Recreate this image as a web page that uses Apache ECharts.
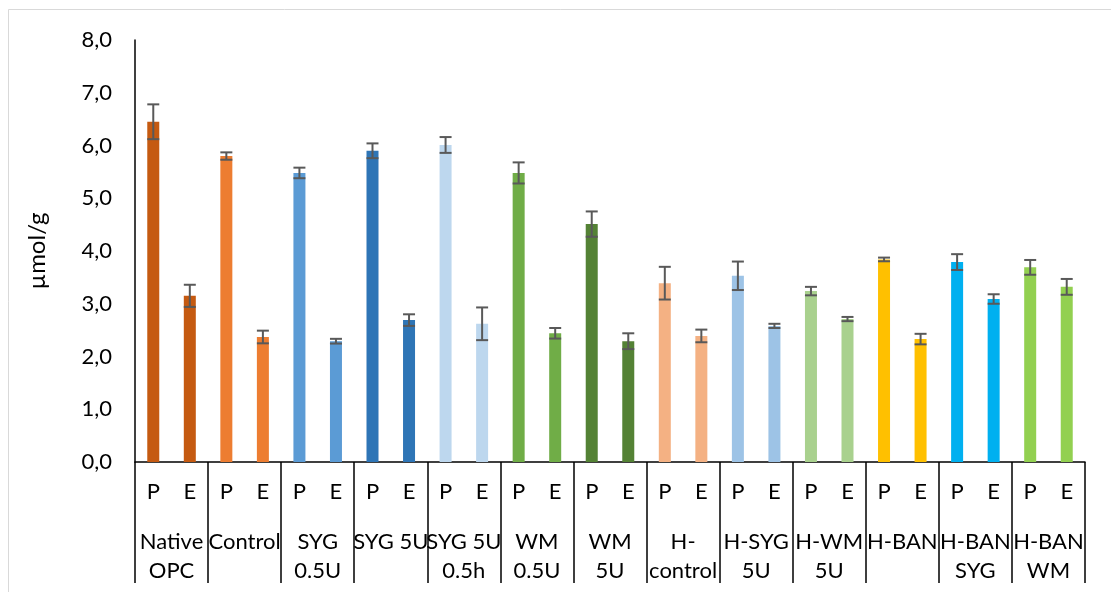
<!DOCTYPE html>
<html>
<head>
<meta charset="utf-8">
<script src="https://cdn.jsdelivr.net/npm/echarts@6/dist/echarts.min.js"></script>
<style>
  html, body { margin: 0; padding: 0; background: #fff; }
  #chart { width: 1111px; height: 592px; }
</style>
</head>
<body>
<div id="chart"></div>
<script>
// Treatment groups (two-line labels) and their bar colours
const groups = ['Native\nOPC', 'Control', 'SYG\n0.5U', 'SYG 5U', 'SYG 5U\n0.5h', 'WM\n0.5U', 'WM\n5U',
  'H-\ncontrol', 'H-SYG\n5U', 'H-WM\n5U', 'H-BAN', 'H-BAN\nSYG', 'H-BAN\nWM'];
const groupColors = ['#C55A11', '#ED7D31', '#5B9BD5', '#2E75B6', '#BDD7EE', '#70AD47', '#548235',
  '#F4B183', '#9DC3E6', '#A9D18E', '#FFC000', '#00B0F0', '#92D050'];
const fractions = ['P', 'E'];

// Mean values (µmol/g) and standard deviations, per group
const valuesP = [6.45, 5.80, 5.48, 5.90, 6.01, 5.48, 4.51, 3.39, 3.53, 3.24, 3.84, 3.79, 3.69];
const errorsP = [0.33, 0.07, 0.10, 0.14, 0.15, 0.20, 0.24, 0.31, 0.27, 0.08, 0.035, 0.15, 0.14];
const valuesE = [3.15, 2.37, 2.29, 2.69, 2.62, 2.44, 2.29, 2.39, 2.58, 2.71, 2.33, 3.09, 3.32];
const errorsE = [0.21, 0.12, 0.045, 0.11, 0.31, 0.10, 0.15, 0.12, 0.04, 0.04, 0.10, 0.09, 0.15];

// Y axis ticks
const yMin = 0, yMax = 8, yStep = 1;

// Flatten to one category per bar: P, E for each group
const barCats = [];
const barData = [];
const errData = [];
groups.forEach((g, i) => {
  [[valuesP[i], errorsP[i]], [valuesE[i], errorsE[i]]].forEach(([v, e], k) => {
    const idx = barCats.length;
    barCats.push(fractions[k]);
    barData.push({ value: v, itemStyle: { color: groupColors[i] } });
    errData.push([idx, v - e, v + e]);
  });
});

const FONT = 'Lato, "Open Sans", sans-serif';
const TXT = '#000';

const chart = echarts.init(document.getElementById('chart'), null, { renderer: 'canvas' });
chart.setOption({
  animation: false,
  backgroundColor: '#fff',
  graphic: [{
    type: 'rect',
    shape: { x: 8.5, y: 9.5, width: 1120, height: 620 },
    style: { fill: 'none', stroke: '#d9d9d9', lineWidth: 1 },
    silent: true
  }],
  grid: { left: 135, right: 26, top: 40, bottom: 130, containLabel: false },
  xAxis: [{
    type: 'category',
    data: barCats,
    position: 'bottom',
    axisLine: { show: true, lineStyle: { color: '#000', width: 1.5 } },
    axisTick: { show: false },
    axisLabel: { interval: 0, margin: 19, fontFamily: FONT, fontSize: 22, color: TXT }
  }, {
    type: 'category',
    data: groups,
    position: 'bottom',
    boundaryGap: true,
    axisLine: { show: false },
    axisTick: { show: true, length: 121, interval: 0, lineStyle: { color: '#000', width: 1.5 } },
    axisLabel: { interval: 0, margin: 65, fontFamily: FONT, fontSize: 22, color: TXT, lineHeight: 29 }
  }],
  yAxis: {
    type: 'value',
    min: yMin, max: yMax, interval: yStep,
    name: 'µmol/g',
    nameLocation: 'middle',
    nameGap: 86,
    nameTextStyle: { fontFamily: FONT, fontSize: 24, color: TXT },
    axisLine: { show: true, lineStyle: { color: '#000', width: 1.5 } },
    axisTick: { show: false },
    splitLine: { show: false },
    axisLabel: {
      margin: 23, fontFamily: FONT, fontSize: 22, color: TXT,
      formatter: v => v.toFixed(1).replace('.', ',')
    }
  },
  series: [{
    type: 'bar',
    xAxisIndex: 0,
    data: barData,
    barWidth: 12
  }, {
    type: 'custom',
    xAxisIndex: 0,
    data: errData,
    z: 5,
    renderItem: (params, api) => {
      const x = api.value(0);
      const lo = api.coord([x, api.value(1)]);
      const hi = api.coord([x, api.value(2)]);
      const half = 6;
      const style = { stroke: '#595959', lineWidth: 2 };
      return {
        type: 'group',
        children: [
          { type: 'line', shape: { x1: lo[0], y1: lo[1], x2: hi[0], y2: hi[1] }, style },
          { type: 'line', shape: { x1: hi[0] - half, y1: hi[1], x2: hi[0] + half, y2: hi[1] }, style },
          { type: 'line', shape: { x1: lo[0] - half, y1: lo[1], x2: lo[0] + half, y2: lo[1] }, style }
        ]
      };
    }
  }]
});
</script>
</body>
</html>
